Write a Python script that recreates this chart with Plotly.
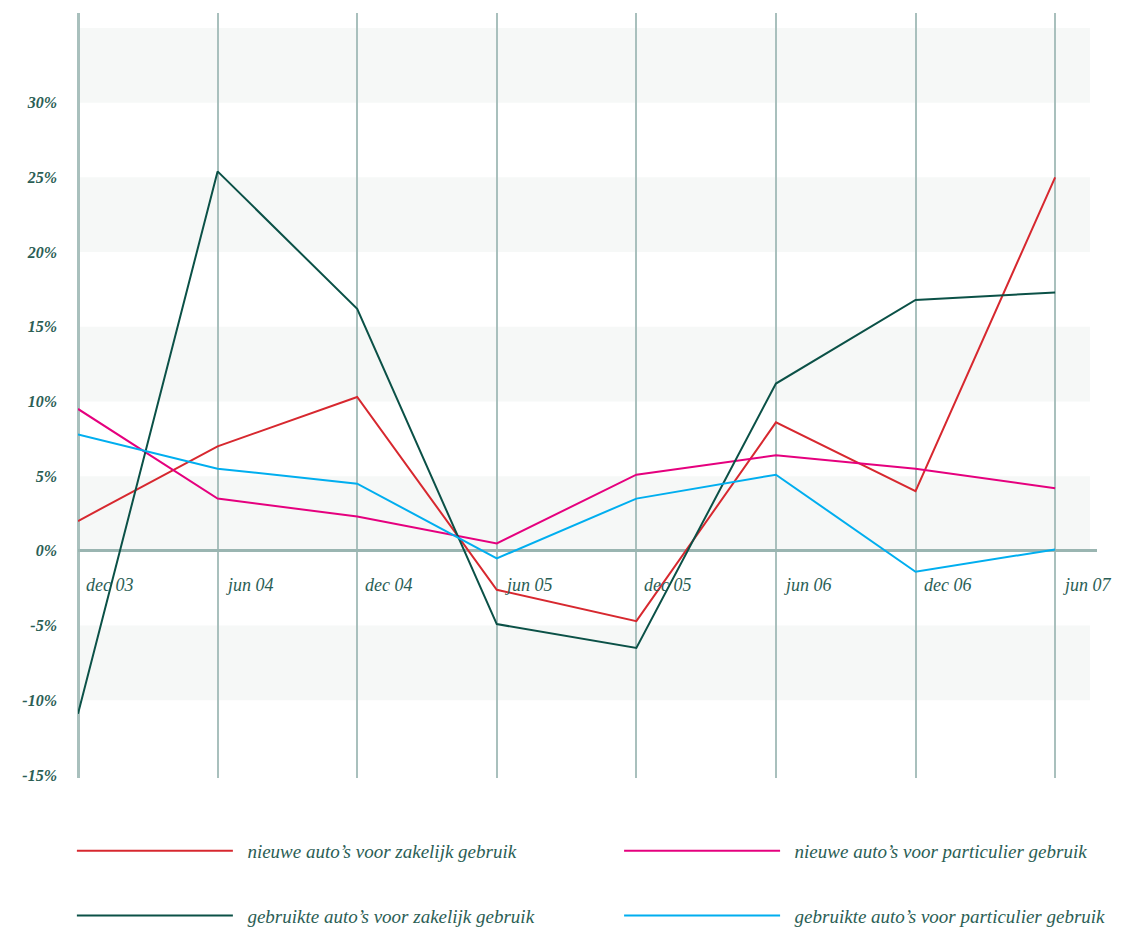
import plotly.graph_objects as go

periods = ["dec 03", "jun 04", "dec 04", "jun 05", "dec 05", "jun 06", "dec 06", "jun 07"]
nieuwe_zakelijk = [2.0, 7.0, 10.3, -2.6, -4.7, 8.6, 4.0, 25.0]
nieuwe_particulier = [9.5, 3.5, 2.3, 0.5, 5.1, 6.4, 5.5, 4.2]
gebruikte_zakelijk = [-10.9, 25.4, 16.2, -4.9, -6.5, 11.2, 16.8, 17.3]
gebruikte_particulier = [7.8, 5.5, 4.5, -0.5, 3.5, 5.1, -1.4, 0.1]
y_ticks = [-15, -10, -5, 0, 5, 10, 15, 20, 25, 30]
y_labels = [f"{v}%" for v in y_ticks]
bands = [(-10, -5), (0, 5), (10, 15), (20, 25), (30, 35)]

names = ["nieuwe auto’s voor zakelijk gebruik", "nieuwe auto’s voor particulier gebruik",
         "gebruikte auto’s voor zakelijk gebruik", "gebruikte auto’s voor particulier gebruik"]
series = [nieuwe_zakelijk, nieuwe_particulier, gebruikte_zakelijk, gebruikte_particulier]
colors = ["#d7282f", "#e5007e", "#0b5147", "#00aeef"]
legend_ids = ["legend", "legend2", "legend3", "legend4"]
legend_pos = [(-0.006, -0.0953), (0.531, -0.0953), (-0.006, -0.180), (0.531, -0.180)]

TXT = "#2b5e55"
GRID = "#a9c0bd"
FONT = "Liberation Serif"

x = list(range(len(periods)))
fig = go.Figure()
for name, vals, col, lg in zip(names, series, colors, legend_ids):
    fig.add_trace(go.Scatter(x=x, y=vals, mode="lines", name="\u2002" + name,
                             line=dict(color=col, width=2), legend=lg))

for y0, y1 in bands:
    fig.add_shape(type="rect", xref="x", yref="y", x0=0, x1=7.25, y0=y0, y1=y1,
                  fillcolor="#f6f8f7", line_width=0, layer="below")

for i, p in enumerate(periods):
    fig.add_annotation(x=i, y=0, text=p, showarrow=False, xanchor="left", yanchor="middle",
                       xshift=6, yshift=-34,
                       font=dict(family=FONT, size=18, color=TXT, style="italic"))

legends = {}
for lg, (lx, ly) in zip(legend_ids, legend_pos):
    legends[lg] = dict(x=lx, y=ly, xanchor="left", yanchor="middle", itemwidth=156,
                       bgcolor="rgba(0,0,0,0)", borderwidth=0, itemclick=False,
                       font=dict(family=FONT, size=19, color=TXT, style="italic"))

fig.update_layout(
    width=1129, height=928,
    margin=dict(l=78, r=32, t=13, b=150, autoexpand=False),
    paper_bgcolor="white", plot_bgcolor="white",
    showlegend=True,
    **legends,
    xaxis=dict(range=[0, 7.30], tickvals=x, showticklabels=False, showgrid=True,
               gridcolor=GRID, gridwidth=1.5, zeroline=True, zerolinecolor=GRID,
               zerolinewidth=3, showline=False, fixedrange=True),
    yaxis=dict(range=[-15.2, 36.0], tickvals=y_ticks, ticktext=y_labels, showgrid=False,
               zeroline=True, zerolinecolor="#9ab5b1", zerolinewidth=3,
               ticklabelstandoff=20, showline=False,
               tickfont=dict(family=FONT, size=16, color=TXT, style="italic", weight="bold"),
               fixedrange=True),
)

fig.write_html("out.html")
